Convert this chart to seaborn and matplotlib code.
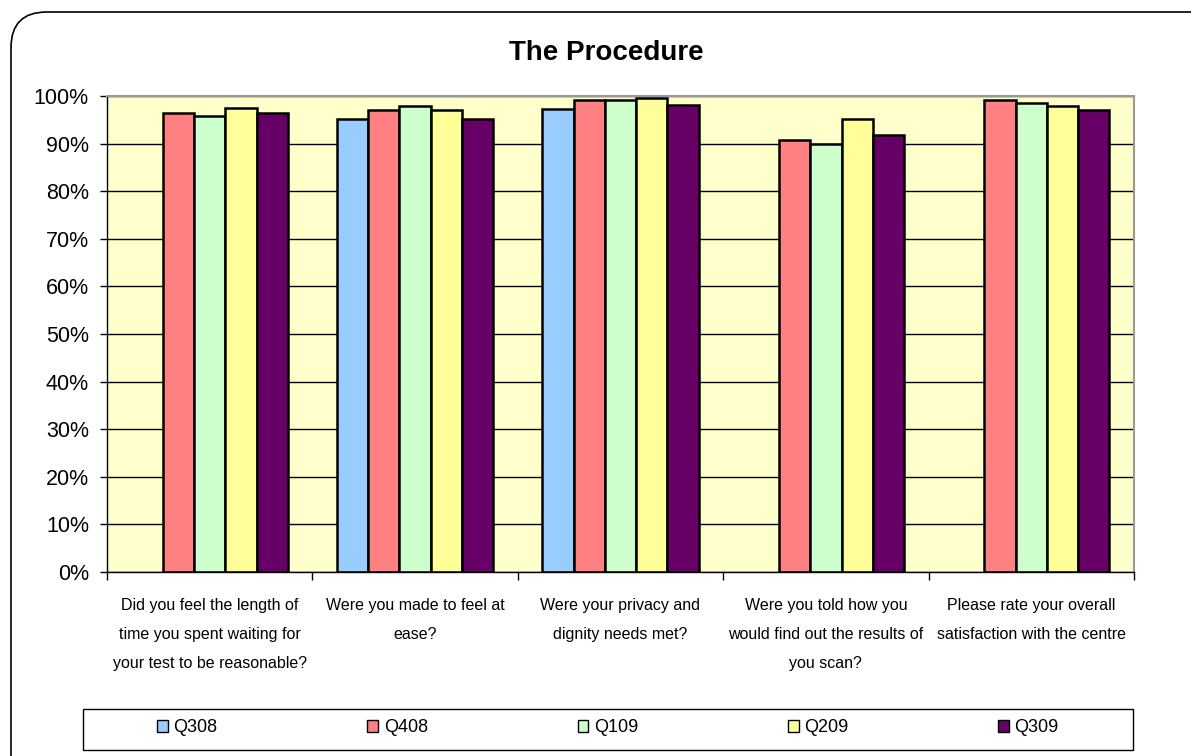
import numpy as np
import pandas as pd
import matplotlib
matplotlib.use('Agg')
import matplotlib.pyplot as plt
from matplotlib.patches import FancyBboxPatch, Patch, Rectangle
from matplotlib.ticker import FuncFormatter, FixedLocator
import seaborn as sns

questions = [
    'Did you feel the length of\ntime you spent waiting for\nyour test to be reasonable?',
    'Were you made to feel at\nease?',
    'Were your privacy and\ndignity needs met?',
    'Were you told how you\nwould find out the results of\nyou scan?',
    'Please rate your overall\nsatisfaction with the centre',
]
quarters = ['Q308', 'Q408', 'Q109', 'Q209', 'Q309']
q308 = [np.nan, 95.2, 97.3, np.nan, np.nan]
q408 = [96.4, 97.1, 99.2, 90.8, 99.2]
q109 = [95.7, 97.8, 99.2, 89.9, 98.5]
q209 = [97.4, 97.1, 99.6, 95.2, 97.8]
q309 = [96.4, 95.2, 98.2, 91.9, 97.1]
colors = ['#99CCFF', '#FF8080', '#CCFFCC', '#FFFF99', '#660066']

sns.set_style('white')
plt.rcParams['font.family'] = ['Liberation Sans', 'DejaVu Sans']
plt.rcParams['text.color'] = 'black'
plt.rcParams['xtick.color'] = 'black'
plt.rcParams['ytick.color'] = 'black'

rows = []
for q, vals in zip(quarters, [q308, q408, q109, q209, q309]):
    for cat, v in zip(questions, vals):
        rows.append({'question': cat, 'quarter': q, 'pct': v})
df = pd.DataFrame(rows)

W, H = 1191, 756
fig = plt.figure(figsize=(W / 100, H / 100), dpi=100)
ax = fig.add_axes([107 / W, 1 - 572 / H, (1134 - 107) / W, (572 - 96) / H])

sns.barplot(data=df, x='question', y='pct', hue='quarter', order=questions,
            hue_order=quarters, palette=colors, edgecolor='black',
            linewidth=1.8, width=0.76, errorbar=None, ax=ax, legend=False,
            saturation=1)

ax.set_facecolor('#FFFFCC')
ax.set_ylim(0, 100)
ax.set_xlim(-0.5, 4.5)
ax.set_yticks(np.arange(0, 101, 10))
ax.yaxis.set_major_formatter(FuncFormatter(lambda v, p: f'{int(v)}%'))
ax.grid(axis='y', color='black', linewidth=1)
ax.set_axisbelow(True)
ax.set_xlabel('')
ax.set_ylabel('')
ax.tick_params(axis='y', labelsize=15.5, length=5, width=1, left=True, pad=8)
ax.tick_params(axis='x', which='major', length=0, labelsize=11.5, pad=19)
ax.xaxis.set_minor_locator(FixedLocator([-0.5, 0.5, 1.5, 2.5, 3.5, 4.5]))
ax.tick_params(axis='x', which='minor', length=6, width=1, bottom=True)
for lbl in ax.get_xticklabels():
    lbl.set_linespacing(2.15)
for s in ['left', 'bottom']:
    ax.spines[s].set_color('black')
    ax.spines[s].set_linewidth(1)
for s in ['top', 'right']:
    ax.spines[s].set_color('#999999')
    ax.spines[s].set_linewidth(1.5)

fig.text(606 / W, 1 - 53 / H, 'The Procedure', ha='center', va='center',
         fontsize=20, fontweight='bold')

# legend box at the bottom
fig.patches.append(Rectangle((83 / W, 1 - 750 / H), (1133 - 83) / W, 41 / H,
                             transform=fig.transFigure, facecolor='white',
                             edgecolor='black', linewidth=1))
handles = [Patch(facecolor=c, edgecolor='black', linewidth=1) for c in colors]
leg = fig.legend(handles, quarters, loc='center', ncol=5,
                 bbox_to_anchor=(608 / W, 1 - 728 / H),
                 fontsize=13, frameon=False,
                 handlelength=0.6, handleheight=0.6, handletextpad=0.3,
                 columnspacing=8.3, borderaxespad=0)

border = FancyBboxPatch((11 / W, -0.05), 1.2, 1 - 12 / H + 0.05,
                        boxstyle='round,pad=0,rounding_size=0.03',
                        transform=fig.transFigure, facecolor='none',
                        edgecolor='black', linewidth=1.2, mutation_aspect=W / H)
fig.patches.append(border)

fig.savefig('out.png', dpi=100)
